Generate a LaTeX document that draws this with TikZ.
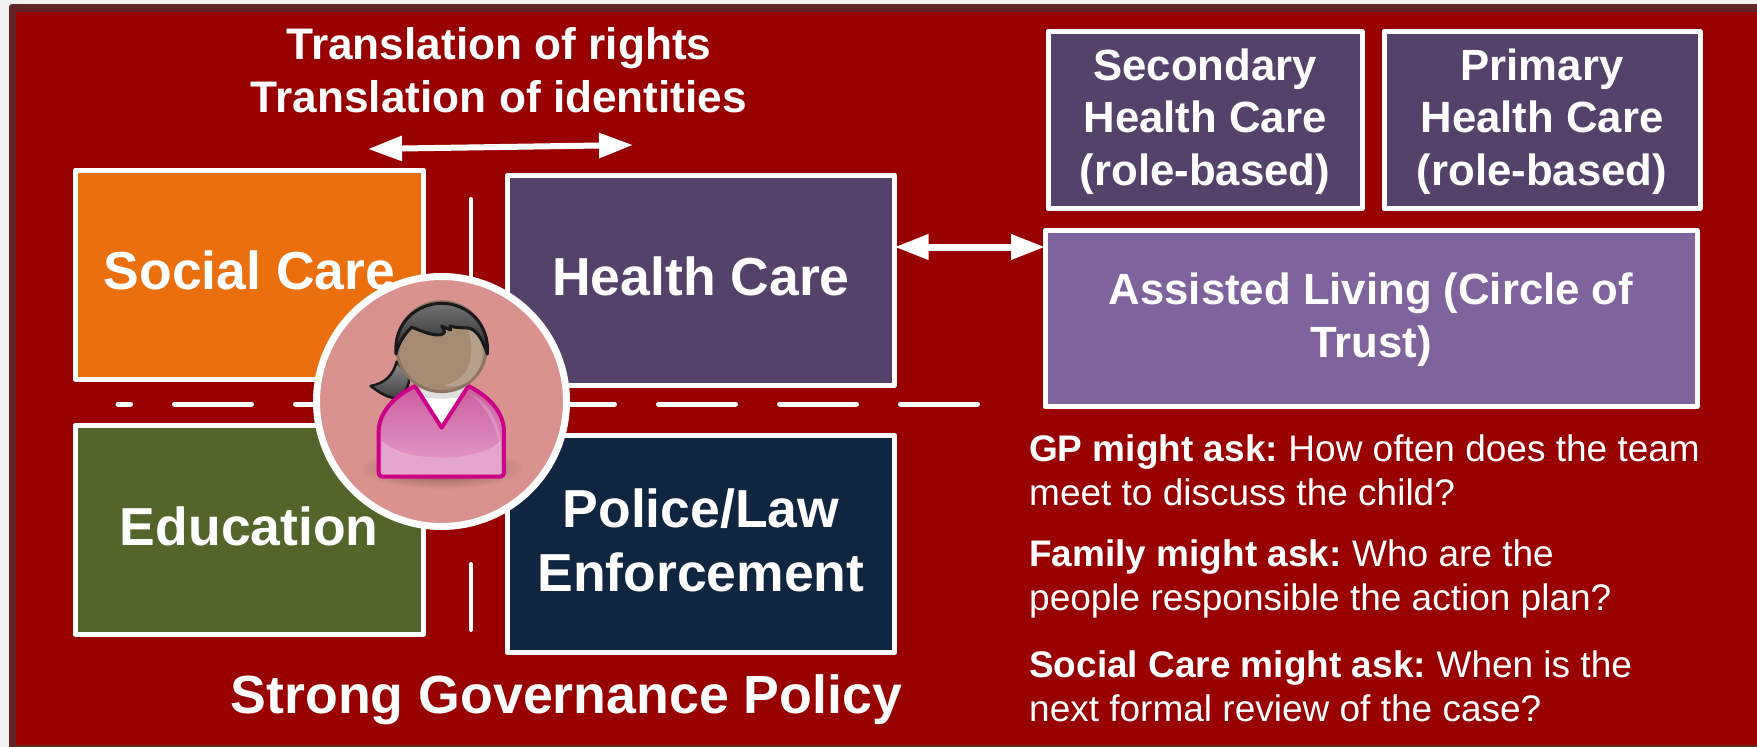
\documentclass[tikz,border=0pt]{standalone}
\usepackage{fontspec}
\setmainfont{Liberation Sans}
\usetikzlibrary{arrows.meta}
\definecolor{pagegrey}{HTML}{F2F2F2}
\definecolor{frame}{HTML}{632523}
\definecolor{ground}{HTML}{990000}
\definecolor{orangebox}{HTML}{EB700D}
\definecolor{plumbox}{HTML}{55426A}
\definecolor{lilacbox}{HTML}{7F639C}
\definecolor{greenbox}{HTML}{53652A}
\definecolor{navybox}{HTML}{10253F}
\definecolor{discfill}{HTML}{D9928E}
\definecolor{magenta1}{HTML}{CC0088}
\definecolor{bodytop}{HTML}{CB5E9E}
\definecolor{bodybot}{HTML}{E6A0CB}
\definecolor{bodylow}{HTML}{E4A6CB}
\definecolor{skin}{HTML}{A58B74}
\newcommand{\up}[2][0pt]{\raisebox{#1}[\height][\depth]{\begin{tabular}{@{}c@{}}#2\end{tabular}}}
\tikzset{
  panel/.style={draw=white,line width=5pt,inner sep=0pt,outer sep=0pt,text=white,align=center,line join=round},
  bigtext/.style={font=\fontsize{53.5}{64.5}\selectfont\bfseries},
  midtext/.style={font=\fontsize{43.7}{52.5}\selectfont\bfseries},
  asktext/.style={font=\fontsize{37}{44.5}\selectfont,text=white,align=left,inner sep=0pt,anchor=north west},
  twoway/.style={draw=white,{Triangle[length=34pt,width=24pt]}-{Triangle[length=34pt,width=24pt]}},
  road/.style={draw=white,line cap=round}
}
\begin{document}
\begin{tikzpicture}[x=1pt,y=-1pt]
\useasboundingbox (0,0) rectangle (1757,747);
\fill[pagegrey] (0,0) rectangle (1757,747);
\fill[frame,rounded corners=3pt] (9,4) rectangle (1775,765);
\fill[ground] (16,12) rectangle (1757,745);
% road markings
\coordinate (hl) at (118,404);
\coordinate (hr) at (978,404);
\coordinate (vt) at (471,199);
\coordinate (vb) at (471,630);
\draw[road,line width=5pt,dash pattern=on 77pt off 44pt,dash phase=64.5pt] (hl) -- (hr);
\draw[road,line width=4pt,dash pattern=on 100pt off 265pt] (vt) -- (vb);
% boxes
\node[panel,fill=orangebox,minimum width=348pt,minimum height=209pt,bigtext] (social) at (249.5,274.5) {\up[-2.5pt]{Social Care}};
\node[panel,fill=plumbox,minimum width=387pt,minimum height=210pt,bigtext] (health) at (701,280) {\up[-2.5pt]{Health Care}};
\node[panel,fill=greenbox,minimum width=348.5pt,minimum height=208.5pt,bigtext] (education) at (249.25,529.75) {\up[-2.5pt]{Education}};
\node[panel,fill=navybox,minimum width=387pt,minimum height=217pt,bigtext] (police) at (701,544) {\up[-2.5pt]{Police/Law\\Enforcement}};
\node[panel,fill=plumbox,minimum width=314pt,minimum height=177pt,midtext] (secondary) at (1205,120) {\up[-2pt]{Secondary\\Health Care\\(role-based)}};
\node[panel,fill=plumbox,minimum width=316pt,minimum height=177pt,midtext] (primary) at (1542,120) {\up[-2pt]{Primary\\Health Care\\(role-based)}};
\node[panel,fill=lilacbox,minimum width=652pt,minimum height=176pt,midtext] (assisted) at (1371,318.5) {\up[-2pt]{Assisted Living (Circle of\\Trust)}};
% headings
\node[inner sep=0pt,text=white,align=center,font=\fontsize{44.2}{53}\selectfont\bfseries] (translation) at (499,70.5) {Translation of rights\\Translation of identities};
\node[inner sep=0pt,text=white,anchor=base,font=\fontsize{53.7}{65}\selectfont\bfseries] (policy) at (566.5,713.5) {Strong Governance Policy};
% questions
\node[asktext] (askgp) at (1029,434) {\textbf{GP might ask:}\hspace{10.5pt}How often does the team\\meet to discuss the child?};
\node[asktext] (askfamily) at (1029,539) {\textbf{Family might ask:}\hspace{10.5pt}Who are the\\people responsible the action plan?};
\node[asktext] (asksocial) at (1029,650) {\textbf{Social Care might ask:}\hspace{10.5pt}When is the\\next formal review of the case?};
% arrows
\coordinate (al) at (368,149);
\coordinate (ar) at (633,145);
\draw[twoway,line width=6pt] (al) -- (ar);
\coordinate (mid) at (0,247);
\draw[twoway,line width=7pt] (health.east |- mid) -- (assisted.west |- mid);
% person disc
\node[circle,draw=white,line width=7pt,fill=discfill,minimum size=250pt,inner sep=0pt] (person) at (441.5,401.5) {};
\begin{scope}[shift={(280,250)},x=0.3333pt,y=-0.3333pt]
  % shadow
  \shade[inner color=black!45!discfill,outer color=discfill] (485,655) ellipse [x radius=245,y radius=62];
  % ponytail
  \draw[draw=black!90,line width=2.5pt,top color=black!45,bottom color=black!75,line join=round]
    (350,335) .. controls (340,375) and (315,400) .. (272,408)
    .. controls (295,425) and (315,440) .. (345,445)
    .. controls (370,435) and (395,405) .. (385,375) -- cycle;
  % collar
  \fill[black!12] (410,405) -- (560,405) -- (555,450) -- (485,530) -- (415,450) -- cycle;
  \fill[white] (420,440) .. controls (460,448) and (510,448) .. (550,440) -- (485,525) -- cycle;
  % body
  \draw[draw=magenta1,line width=4pt,line join=round,top color=bodytop,bottom color=bodybot]
    (405,408) -- (485,533) -- (565,408)
    .. controls (630,440) and (672,490) .. (672,545)
    -- (672,665) .. controls (672,675) and (668,680) .. (658,680)
    -- (310,680) .. controls (300,680) and (296,675) .. (296,665)
    -- (296,545) .. controls (296,490) and (340,440) .. cycle;
  \fill[bodylow] (306,572)
    .. controls (370,640) and (600,640) .. (662,572)
    -- (664,664) .. controls (664,670) and (660,672) .. (655,672)
    -- (312,672) .. controls (306,672) and (304,670) .. (304,664) -- cycle;
  \fill[white,opacity=.2] (570,430) .. controls (625,460) and (660,510) .. (660,590)
    .. controls (650,530) and (620,470) .. cycle;
  % face
  \draw[draw=skin!85!black,line width=3pt,fill=skin] (485,290) circle [radius=135];
  \fill[white,opacity=.18] (555,205) .. controls (620,260) and (625,350) .. (565,395)
     .. controls (540,410) and (510,412) .. (490,405)
     .. controls (560,395) and (600,330) .. cycle;
  % hair
  \draw[draw=black!90,line width=3pt,line join=round,top color=black!55,bottom color=black!85]
    (348,312) .. controls (340,220) and (410,160) .. (485,160)
    .. controls (565,160) and (630,225) .. (622,312)
    .. controls (610,275) and (595,245) .. (570,235)
    .. controls (555,232) and (530,235) .. (510,228)
    -- (512,240) -- (485,228)
    .. controls (495,245) and (500,250) .. (478,255)
    .. controls (445,255) and (420,240) .. (395,232)
    .. controls (375,250) and (355,280) .. (348,312) -- cycle;
\end{scope}
\end{tikzpicture}
\end{document}
